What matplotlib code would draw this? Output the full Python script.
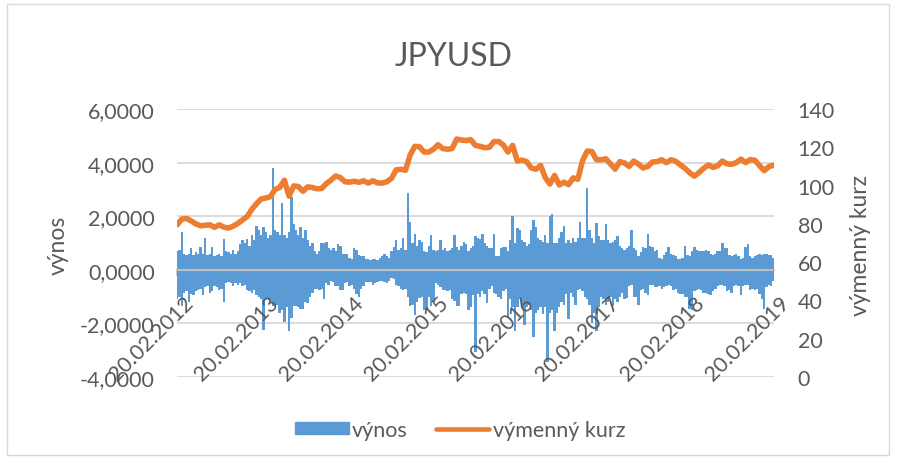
import numpy as np
import pandas as pd
import matplotlib
matplotlib.use("Agg")
import matplotlib.pyplot as plt
import matplotlib.transforms as mtransforms
from matplotlib.lines import Line2D
from matplotlib.patches import Patch, Rectangle

plt.rcParams['font.family'] = ['Lato', 'DejaVu Sans']

# ---------------- data ----------------
title = "JPYUSD"
bar_name = "výnos"
line_name = "výmenný kurz"
tick_labels = ["20.02.2012", "20.02.2013", "20.02.2014", "20.02.2015",
               "20.02.2016", "20.02.2017", "20.02.2018", "20.02.2019"]
start_date = "2012-02-20"

# return envelope (upper / lower extent of daily returns), one value per 10 days
pos_2012 = [0.7, 0.75, 1.4, 0.6, 0.55, 0.6, 0.8, 0.55, 0.65, 0.6, 0.85, 0.6, 1.2, 0.55, 0.6, 0.85,
            0.5, 0.55, 0.6, 0.5, 1.15, 0.7, 0.65, 0.6, 0.75, 0.6, 0.7, 0.95, 1.1, 1.0, 1.15, 0.9,
            1.3, 1.1, 1.65, 1.5, 1.3]
neg_2012 = [-1.1, -1.0, -1.35, -0.85, -0.8, -1.2, -0.9, -0.95, -0.8, -0.75, -0.7, -0.95, -0.65,
            -0.6, -0.85, -0.8, -0.6, -0.65, -0.75, -0.7, -1.2, -0.5, -0.45, -0.5, -0.6, -0.5,
            -0.55, -0.5, -0.6, -0.55, -0.75, -0.8, -0.85, -0.75, -0.95, -1.0, -1.1]
pos_2013 = [1.6, 1.4, 1.2, 1.3, 3.8, 1.5, 1.4, 1.3, 2.5, 1.3, 1.2, 1.4, 2.7, 1.7, 1.5, 1.3, 1.6,
            1.2, 1.5, 1.1, 0.9, 1.0, 0.7, 0.6, 0.7, 1.0, 1.0, 1.05, 0.8, 0.75, 0.8, 0.7, 0.95,
            0.9, 0.6, 0.6]
neg_2013 = [-2.25, -1.1, -1.05, -1.2, -1.35, -1.35, -1.3, -1.6, -1.5, -1.95, -1.4, -2.3, -1.8,
            -1.35, -1.35, -1.4, -1.45, -1.45, -1.2, -1.25, -1.0, -0.85, -0.7, -0.7, -0.75, -0.7,
            -1.1, -0.5, -0.55, -0.4, -0.45, -0.6, -0.6, -0.75, -0.75, -0.5]
pos_2014 = [0.6, 0.45, 0.4, 0.8, 0.75, 0.55, 0.5, 0.5, 0.4, 0.4, 0.35, 0.4, 0.4, 0.35, 0.45, 0.5,
            0.6, 0.5, 0.45, 0.7, 0.85, 1.1, 0.75, 0.8, 1.2, 0.75, 2.85, 1.8, 1.0, 1.35, 0.9, 1.1,
            1.05, 0.7, 0.65, 0.9, 1.3]
neg_2014 = [-0.45, -0.6, -0.55, -0.7, -0.9, -1.0, -0.7, -0.6, -0.45, -0.45, -0.45, -0.55, -0.5,
            -0.45, -0.4, -0.4, -0.45, -0.5, -0.4, -0.3, -0.35, -0.55, -0.6, -0.7, -0.75, -0.7,
            -1.0, -1.35, -1.3, -1.7, -1.2, -1.05, -1.0, -1.5, -1.45, -1.0, -1.35]
pos_2015 = [0.75, 0.7, 0.75, 1.1, 0.75, 0.8, 0.7, 0.75, 0.8, 1.3, 0.85, 0.75, 0.9, 1.05, 0.95,
            0.7, 0.8, 0.9, 1.25, 1.2, 1.15, 1.35, 1.0, 0.9, 0.8, 0.8, 1.35, 0.5, 0.5, 0.8, 0.85,
            0.85, 0.7, 1.1, 2.0, 1.0]
neg_2015 = [-1.2, -0.5, -0.55, -0.65, -0.75, -0.75, -0.8, -0.75, -1.1, -1.15, -1.35, -1.35, -0.9,
            -0.85, -0.9, -1.5, -1.4, -0.95, -3.05, -0.9, -1.0, -0.8, -0.9, -1.25, -0.7, -0.6,
            -0.85, -0.9, -1.0, -1.1, -0.8, -0.7, -1.8, -1.1, -1.4, -2.3]
pos_2016 = [1.55, 1.5, 1.1, 1.05, 0.9, 0.95, 1.5, 1.85, 1.6, 1.2, 1.1, 1.05, 1.3, 1.0, 2.0, 2.1,
            1.0, 1.0, 1.2, 1.4, 1.65, 1.0, 1.1, 1.0, 1.2, 1.05, 1.2, 1.8, 1.2, 1.2, 3.05, 1.5,
            1.2, 1.0, 1.75, 1.25, 1.1]
neg_2016 = [-1.4, -1.1, -1.3, -2.05, -1.4, -1.3, -1.5, -2.5, -1.6, -1.5, -1.4, -1.65, -1.4, -3.45,
            -1.6, -1.5, -2.3, -1.6, -1.4, -1.2, -1.3, -0.9, -1.85, -0.85, -1.0, -1.3, -0.75, -0.7,
            -0.8, -1.0, -1.1, -1.3, -2.0, -1.6, -2.3, -1.4, -1.0]
pos_2017 = [1.1, 1.7, 1.1, 1.0, 1.05, 1.1, 1.25, 0.9, 0.8, 0.75, 0.8, 0.9, 1.5, 0.8, 0.75, 0.5,
            0.65, 0.85, 0.8, 1.35, 0.9, 0.85, 0.7, 0.75, 0.45, 0.4, 0.55, 0.65, 0.85, 0.6, 0.55,
            0.5, 0.4, 0.4, 0.45, 0.9]
neg_2017 = [-1.1, -1.3, -1.2, -1.0, -1.35, -1.1, -1.2, -1.0, -0.85, -1.1, -1.05, -0.6, -0.55,
            -1.0, -1.0, -1.3, -0.75, -0.7, -0.85, -0.95, -0.55, -0.55, -0.65, -0.65, -0.6, -0.7,
            -0.65, -0.6, -0.55, -0.6, -0.75, -0.7, -0.85, -0.9, -0.9, -1.0]
pos_2018 = [0.55, 0.5, 0.7, 0.85, 0.75, 0.7, 0.7, 0.7, 0.75, 0.7, 0.6, 0.55, 0.6, 0.7, 0.7, 1.0,
            0.8, 0.8, 0.55, 0.5, 0.55, 0.6, 0.5, 0.4, 0.45, 0.85, 0.95, 0.5, 0.45, 0.5, 0.55, 0.6,
            0.55, 0.6, 0.6, 0.55, 0.55, 0.45]
neg_2018 = [-1.0, -1.45, -1.5, -0.8, -0.75, -0.7, -0.75, -0.85, -0.85, -0.9, -0.95, -0.8, -0.7,
            -0.6, -0.55, -0.55, -0.6, -0.8, -0.75, -0.85, -0.6, -0.55, -0.6, -0.95, -0.6, -0.55,
            -0.55, -0.75, -0.7, -0.75, -0.7, -0.9, -1.1, -1.45, -0.65, -0.55, -0.6, -0.4]

# exchange rate, one value per 20 days
rate_2012 = [79.6, 82.5, 82.8, 81.5, 80.0, 79.0, 79.2, 79.5, 78.2, 79.5, 78.3, 77.8, 78.8, 80.2,
             82.0, 83.8, 87.5, 90.5, 93.0]
rate_2013 = [93.5, 94.2, 98.0, 99.0, 102.8, 94.5, 99.8, 99.5, 97.0, 99.3, 99.0, 98.3, 98.5, 101.0,
             102.8, 105.0, 104.2, 102.0]
rate_2014 = [101.8, 102.3, 101.7, 102.5, 101.3, 102.5, 101.4, 101.3, 102.0, 103.8, 108.2, 108.5,
             108.0, 116.0, 120.5, 120.3, 117.5, 117.5]
rate_2015 = [119.0, 121.3, 119.3, 119.0, 119.3, 124.3, 123.8, 123.5, 124.0, 121.0, 120.5, 119.8,
             120.0, 123.0, 123.0, 121.2, 117.5, 121.0]
rate_2016 = [112.8, 113.3, 112.5, 109.2, 108.5, 110.5, 104.2, 100.8, 105.3, 100.3, 101.8, 100.5,
             104.0, 103.3, 113.0, 118.0, 117.8, 113.5, 113.5]
rate_2017 = [114.0, 111.3, 108.6, 112.5, 111.8, 110.0, 112.8, 111.2, 109.2, 110.0, 112.3, 112.5,
             113.5, 112.0, 113.5, 112.7, 110.8, 109.0]
rate_2018 = [106.7, 104.9, 106.8, 109.0, 110.8, 109.5, 110.3, 112.8, 111.4, 111.1, 112.0, 113.8,
             112.0, 113.6, 113.2, 110.4, 107.8, 109.9, 110.6]

pos = pos_2012 + pos_2013 + pos_2014 + pos_2015 + pos_2016 + pos_2017 + pos_2018
neg = neg_2012 + neg_2013 + neg_2014 + neg_2015 + neg_2016 + neg_2017 + neg_2018
rate = rate_2012 + rate_2013 + rate_2014 + rate_2015 + rate_2016 + rate_2017 + rate_2018

bar_dates = pd.date_range(start_date, periods=len(pos), freq="10D")
rate_dates = pd.date_range(start_date, periods=len(rate), freq="20D")
tick_dates = pd.to_datetime(tick_labels, format="%d.%m.%Y")

# ---------------- style ----------------
BLUE = "#5B9BD5"
ORANGE = "#ED7D31"
TXT = "#595959"
GRID = "#D9D9D9"
W, H = 897, 460

fig = plt.figure(figsize=(W / 100, H / 100), dpi=100)
fig.patches.append(Rectangle((7 / W, 4 / H), (889 - 7) / W, (455 - 4) / H,
                             transform=fig.transFigure, fill=False,
                             edgecolor=GRID, linewidth=1.0))

ax = fig.add_axes([177 / W, 1 - 378 / H, (774 - 177) / W, (378 - 110) / H])
ax2 = ax.twinx()

ax.bar(bar_dates, pos, width=10.5, color=BLUE, linewidth=0, zorder=1, antialiased=False)
ax.bar(bar_dates, neg, width=10.5, color=BLUE, linewidth=0, zorder=1, antialiased=False)

ax2.plot(rate_dates, rate, color=ORANGE, linewidth=4.0, solid_joinstyle="round",
         solid_capstyle="round")

ax.set_xlim(pd.Timestamp("2012-02-19"), pd.Timestamp("2019-02-25"))
ax.set_ylim(-4, 6)
ax.set_yticks(np.arange(-4, 7, 2))
ax.set_yticklabels([("%.4f" % v).replace(".", ",") for v in np.arange(-4, 7, 2)])
ax.grid(axis="y", color=GRID, linewidth=1.3)
ax.set_axisbelow(True)

ax2.set_ylim(0, 140)
ax2.set_yticks(np.arange(0, 141, 20))

for a in (ax, ax2):
    for s in ("top", "left", "right"):
        a.spines[s].set_visible(False)
ax2.spines["bottom"].set_visible(False)
ax.spines["bottom"].set_position(("data", 0))
ax.spines["bottom"].set_color("#BFBFBF")
ax.spines["bottom"].set_linewidth(1.5)
ax.spines["bottom"].set_zorder(3)

ax.set_xticks(tick_dates)
ax.set_xticklabels([])
ax.tick_params(axis="x", length=4, width=1.2, color="#BFBFBF", direction="out")
ax.tick_params(axis="y", length=0, pad=16, labelsize=15.5, labelcolor=TXT)
ax2.tick_params(axis="y", length=0, pad=17, labelsize=15.5, labelcolor=TXT)

off = mtransforms.offset_copy(ax.transData, fig=fig, x=6, y=-22, units="dots")
for d, lab in zip(tick_dates, tick_labels):
    ax.text(d, 0, lab, transform=off, rotation=45, rotation_mode="anchor",
            ha="right", va="top", fontsize=15.5, color=TXT, zorder=5, clip_on=False)

fig.text(453 / W, 1 - 57 / H, title, ha="center", va="center", fontsize=23, color=TXT)
fig.text(58 / W, 1 - 245 / H, bar_name, rotation=90, ha="center", va="center",
         fontsize=16.5, color=TXT)
fig.text(860 / W, 1 - 245 / H, line_name, rotation=90, ha="center", va="center",
         fontsize=16.5, color=TXT)

handles = [Patch(facecolor=BLUE, edgecolor=BLUE),
           Line2D([0], [0], color=ORANGE, linewidth=3.3, solid_capstyle="round")]
leg = fig.legend(handles, [bar_name, line_name], loc="center", bbox_to_anchor=(460 / W, 1 - 431 / H),
                 ncol=2, frameon=False, fontsize=15.5, handlelength=2.5, handleheight=0.5,
                 handletextpad=0.15, columnspacing=1.3, borderpad=0, borderaxespad=0)
for t in leg.get_texts():
    t.set_color(TXT)

fig.savefig("out.png", dpi=100)
